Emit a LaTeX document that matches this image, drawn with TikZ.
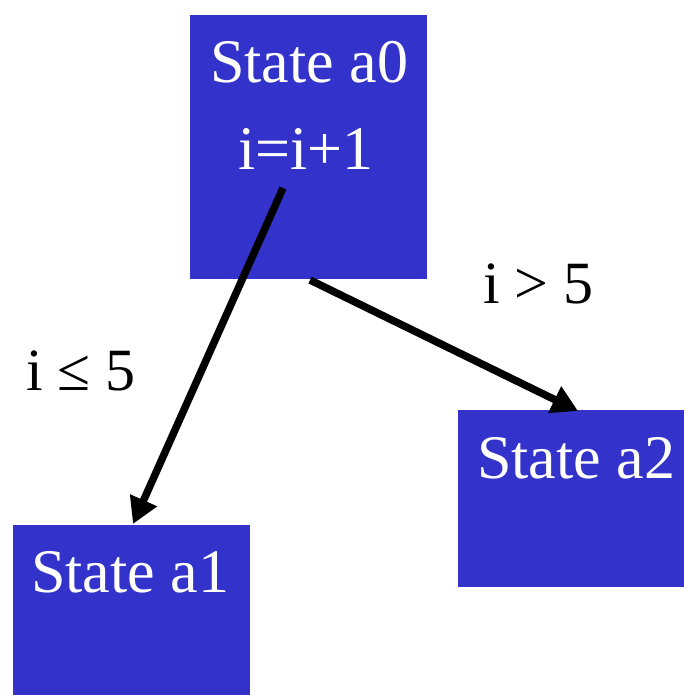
\documentclass[tikz,border=0pt]{standalone}
\usepackage{fontspec}
\setmainfont{Liberation Serif}
\usetikzlibrary{arrows.meta,calc}
\definecolor{stateblue}{HTML}{3333CC}
\tikzset{
  statebox/.style={fill=stateblue, draw=none, anchor=north west, inner sep=0pt},
  boxtext/.style={text=white, anchor=base, inner sep=0pt, font=\fontsize{62}{62}\selectfont},
  lbl/.style={text=black, anchor=base west, inner sep=0pt, font=\fontsize{60}{60}\selectfont},
  conn/.style={line width=7.5pt, -{Triangle[length=26pt,width=28pt]}}
}
\begin{document}
\begin{tikzpicture}[x=1pt,y=-1pt]
\useasboundingbox (0,0) rectangle (684,695);
\node[statebox, minimum width=237pt, minimum height=264pt] (a0) at (190,15) {};
\node[statebox, minimum width=237pt, minimum height=170pt] (a1) at (13,525) {};
\node[statebox, minimum width=226pt, minimum height=177pt] (a2) at (458,410) {};
\node[boxtext] (t0) at (309,83) {State a0};
\node[boxtext] (t0b) at (306,169) {i=i+1};
\node[boxtext] (t1) at (130,592) {State a1};
\node[boxtext] (t2) at (576,478) {State a2};
\node[lbl] (l1) at (26,390) {i ≤ 5};
\node[lbl] (l2) at (483,303) {i > 5};
\coordinate (s1) at (283,188);
\coordinate (s2) at (310,280);
\coordinate (e1) at (133,524);
\coordinate (e2) at (578,411);
\draw[conn] (s1) -- (e1);
\draw[conn] (s2) -- (e2);
\end{tikzpicture}
\end{document}
